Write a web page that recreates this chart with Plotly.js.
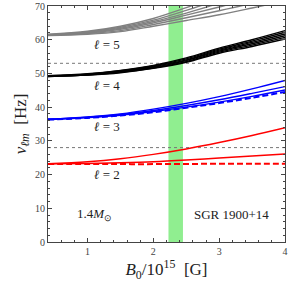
<!DOCTYPE html>
<html>
<head>
<meta charset="utf-8">
<script src="https://cdn.plot.ly/plotly-3.0.1.min.js"></script>
<style>html,body{margin:0;padding:0;background:#fff;}#chart{width:291px;height:291px;}</style>
</head>
<body>
<div id="chart"></div>
<script>
// Field strength B0 / 10^15 G
const B = [0.4, 1.0, 1.5, 2.0, 2.5, 3.0, 3.5, 4.0];

// l = 2 (red)
const l2_a = [23.2, 23.8, 24.7, 26.0, 27.6, 29.5, 31.6, 33.9];
const l2_b = [23.2, 23.3, 23.5, 23.8, 24.3, 24.9, 25.5, 26.1];
const l2_dash = [23.1, 23.1, 23.1, 23.1, 23.15, 23.2, 23.2, 23.2];

// l = 3 (blue)
const l3_a = [36.4, 37.1, 38.0, 39.4, 41.1, 43.1, 45.4, 47.9];
const l3_b = [36.4, 37.0, 37.8, 39.0, 40.5, 42.2, 44.1, 46.1];
const l3_c = [36.3, 36.9, 37.6, 38.7, 40.0, 41.5, 43.2, 45.1];
const l3_dash = [36.3, 36.8, 37.5, 38.5, 39.8, 41.2, 42.8, 44.5];

// l = 4 (black)
const l4_a = [49.3, 49.9, 50.9, 52.4, 54.6, 57.5, 60.0, 62.7];
const l4_b = [49.3, 49.8, 50.8, 52.2, 54.3, 57.2, 59.6, 62.2];
const l4_c = [49.2, 49.7, 50.6, 52.0, 54.0, 56.9, 59.2, 61.7];
const l4_d = [49.2, 49.6, 50.5, 51.8, 53.8, 56.6, 58.8, 61.2];
const l4_e = [49.1, 49.5, 50.3, 51.6, 53.5, 56.3, 58.4, 60.7];
const l4_f = [49.1, 49.5, 50.2, 51.5, 53.3, 56.0, 58.0, 60.2];

// l = 5 (gray)
const l5_a = [61.6, 62.5, 64.0, 66.3, 69.5, 73.0, 76.5, 80.0];
const l5_b = [61.5, 62.3, 63.7, 65.8, 68.7, 71.9, 75.1, 78.3];
const l5_c = [61.4, 62.1, 63.4, 65.4, 67.9, 70.8, 73.7, 76.6];
const l5_d = [61.4, 62.0, 63.1, 65.0, 67.3, 69.7, 72.3, 74.9];
const l5_e = [61.3, 61.8, 62.7, 64.5, 66.5, 68.6, 70.8, 73.2];
const l5_f = [61.2, 61.6, 62.4, 64.0, 65.7, 67.4, 69.4, 71.5];

// Observed QPO frequencies of SGR 1900+14 (Hz)
const qpo = [28, 53];
// Estimated field range of SGR 1900+14
const bandB = [2.23, 2.45];

const serif = 'Liberation Serif';

function line(y, color, dash, width) {
  return {x: B, y: y, type: 'scatter', mode: 'lines',
    line: {color: color, width: width || 1.4, dash: dash || 'solid', shape: 'spline', smoothing: 1},
    hoverinfo: 'skip', showlegend: false};
}

const traces = [
  line(l5_a, '#808080'), line(l5_b, '#808080'), line(l5_c, '#808080'),
  line(l5_d, '#808080'), line(l5_e, '#808080'), line(l5_f, '#808080'),
  line(l4_a, '#000000'), line(l4_b, '#000000'), line(l4_c, '#000000'),
  line(l4_d, '#000000'), line(l4_e, '#000000'), line(l4_f, '#000000'),
  line(l3_a, '#0000ff'), line(l3_b, '#0000ff'), line(l3_c, '#0000ff'),
  line(l3_dash, '#0000ff', '6px,3px', 2),
  line(l2_a, '#ff0000'), line(l2_b, '#ff0000'),
  line(l2_dash, '#ff0000', '6px,3px', 2)
];

const shapes = [
  {type: 'rect', xref: 'x', yref: 'paper', x0: bandB[0], x1: bandB[1], y0: 0, y1: 1,
   fillcolor: '#90ee90', line: {width: 0}, layer: 'below'}
].concat(qpo.map(f => ({type: 'line', xref: 'paper', yref: 'y', x0: 0, x1: 1, y0: f, y1: f,
   line: {color: '#777', width: 1, dash: 'dot'}, layer: 'below'})));

const annFont = {family: serif, size: 13, color: '#222'};
const annotations = [
  {x: 1.3, y: 58.5, text: '<i>ℓ</i> = 5'},
  {x: 1.3, y: 46.5, text: '<i>ℓ</i> = 4'},
  {x: 1.3, y: 34.3, text: '<i>ℓ</i> = 3'},
  {x: 1.3, y: 19.9, text: '<i>ℓ</i> = 2'},
  {x: 1.1, y: 8.1, text: '1.4<i>M</i><sub>⊙</sub>'},
  {x: 3.19, y: 8.1, text: 'SGR 1900+14'}
].map(a => Object.assign({xref: 'x', yref: 'y', showarrow: false, font: annFont}, a));

const axisCommon = {
  showgrid: false, zeroline: false, showline: true, linecolor: '#444', linewidth: 1,
  mirror: 'ticks', ticks: 'inside', ticklen: 4, tickcolor: '#444', tickwidth: 1,
  tickfont: {family: serif, size: 10, color: '#444'}
};

const layout = {
  width: 291, height: 291,
  margin: {l: 48, r: 6, t: 6, b: 49},
  paper_bgcolor: '#fff', plot_bgcolor: '#fff',
  xaxis: Object.assign({}, axisCommon, {
    range: [0.4, 4], tickvals: [1, 2, 3, 4],
    minor: {dtick: 0.2, tick0: 0, ticks: 'inside', ticklen: 2, tickcolor: '#444'},
    title: {text: '<i>B</i><sub>0</sub>/10<sup>15</sup>  [G]', font: {family: serif, size: 17, color: '#222'}, standoff: 6}
  }),
  yaxis: Object.assign({}, axisCommon, {
    range: [0, 70], tickvals: [0, 10, 20, 30, 40, 50, 60, 70],
    minor: {dtick: 2, tick0: 0, ticks: 'inside', ticklen: 2, tickcolor: '#444'},
    title: {text: '<i>ν</i><sub><i>ℓm</i></sub>  [Hz]', font: {family: serif, size: 17, color: '#222'}, standoff: 4}
  }),
  shapes: shapes,
  annotations: annotations
};

Plotly.newPlot('chart', traces, layout, {staticPlot: true, displayModeBar: false});
</script>
</body>
</html>
